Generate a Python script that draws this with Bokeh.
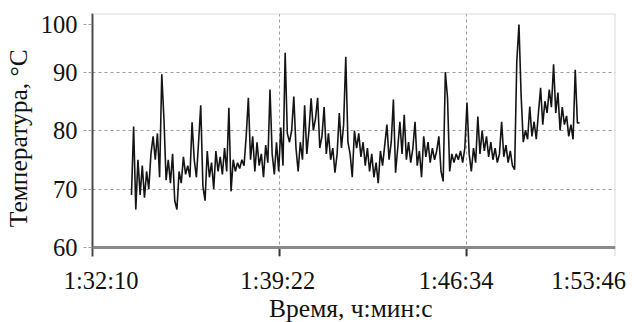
from bokeh.plotting import figure
from bokeh.models import FixedTicker, Range1d, Span, ColumnDataSource
from bokeh.embed import file_html
from bokeh.resources import INLINE

# ---- data ----
start_seconds = 5620          # 1:33:40
step_seconds = 5
temperature = [
    69, 80.7, 66.5, 75, 69, 74, 68.5, 73, 70, 76,
    79, 75, 79.5, 72, 89.6, 82, 71.5, 75, 71, 76,
    68, 66.5, 73, 71, 75.5, 72.5, 74, 72, 81.4, 75,
    72, 78, 84.3, 70.5, 68, 76.5, 72, 74.5, 70, 76.5,
    73, 75.5, 72.5, 77, 73, 83.9, 69.6, 75, 73, 74.5,
    73.5, 75, 74, 79, 85.6, 75, 79, 73, 78, 74,
    76, 72, 77.5, 74.5, 87, 76, 72.5, 78, 73, 80.5,
    74, 93.3, 79.5, 78, 80, 85.8, 77, 73, 78, 75,
    84.3, 76, 80, 85.5, 80, 82, 85.6, 77, 79, 84,
    76, 79.5, 75, 77, 72.8, 76, 83, 77, 81, 92.6,
    78, 76, 72, 80, 77, 79.5, 75.5, 78, 74, 77,
    73, 76, 72, 74.5, 71, 76.5, 74, 77.5, 81, 75,
    78, 85.3, 72.8, 77, 81.5, 76, 82.7, 75, 78, 74.5,
    77, 81.5, 74, 76.5, 72, 79, 75.5, 78, 74.5, 77,
    75, 76.5, 79, 73, 71.3, 90, 85.6, 73, 76, 74.5,
    76, 75, 76.5, 74.5, 77, 84.8, 76, 73, 77, 74.5,
    82.4, 76, 80, 76.5, 79, 75.5, 78, 75, 77, 74.5,
    76, 81.5, 75.5, 77.5, 74.5, 76.5, 74, 73.3, 91.8, 98.1,
    86, 78, 80, 78.5, 84.1, 79, 81.5, 78.5, 83, 87.3,
    81, 85, 83, 87, 84, 91.3, 83, 86.5, 80, 84,
    81, 82.5, 79, 81, 78.5, 90.4, 81.3, 81.3,
]
time_seconds = [start_seconds + i * step_seconds for i in range(len(temperature))]

# time ticks (seconds) and their labels
x_tick_values = [5530, 5962, 6394]                 # 1:32:10, 1:39:22, 1:46:34
x_tick_labels = ["1:32:10", "1:39:22", "1:46:34", "1:53:46"]
y_tick_values = [60, 70, 80, 90, 100]

# ---- layout constants (as in the source picture) ----
x_label_positions = [5550, 5958, 6370, 6676]       # where the time labels sit
y_top_label_position = 98.12                       # the "100" label sits a little low
x_start, x_end = 5530, 6738
y_start, y_end = 60 - 40 * 9 / 234, 100            # frame extends 9px below 60 for tick marks

FONT = "Liberation Serif"

p = figure(frame_width=523, frame_height=243, output_backend="svg", toolbar_location=None,
           x_range=Range1d(x_start, x_end), y_range=Range1d(y_start, y_end),
           min_border_left=91, min_border_right=11, min_border_top=13,
           min_border_bottom=60)

src = ColumnDataSource(dict(t=time_seconds, v=temperature))
p.line("t", "v", source=src, line_color="#141414", line_width=1.6)

# ---- axes ----
p.xaxis.ticker = FixedTicker(ticks=x_label_positions)
p.xaxis.major_label_overrides = {x_label_positions[i]: x_tick_labels[i] for i in range(4)}
y_label_ticks = y_tick_values[:-1] + [y_top_label_position]
p.yaxis.ticker = FixedTicker(ticks=y_label_ticks)
p.yaxis.major_label_overrides = {y_top_label_position: str(y_tick_values[-1])}

for ax in (p.xaxis[0], p.yaxis[0]):
    ax.major_label_text_font = FONT
    ax.major_label_text_font_size = "24.5px"
    ax.major_label_text_color = "#111111"
    ax.axis_label_text_font = FONT
    ax.axis_label_text_font_size = "25.5px"
    ax.axis_label_text_font_style = "normal"
    ax.axis_label_text_color = "#111111"
    ax.minor_tick_line_color = None
    ax.major_tick_in = 0

p.xaxis.axis_label = "Время,  ч:мин:с"
p.yaxis.axis_label = "Температура,  °С"

p.xaxis.axis_line_color = None
p.xaxis.major_tick_line_color = None
p.xaxis.major_tick_out = 0
p.xaxis.major_label_standoff = 10
p.xaxis.axis_label_standoff = -3

p.yaxis.axis_line_color = "#4a4a4a"
p.yaxis.axis_line_width = 2
p.yaxis.major_tick_line_color = "#a0a0a0"
p.yaxis.major_tick_line_width = 1
p.yaxis.major_tick_line_dash = "3 2"
p.yaxis.major_tick_out = 9
p.yaxis.major_label_standoff = 6
p.yaxis.axis_label_standoff = 5

# ---- grid ----
p.xgrid.ticker = FixedTicker(ticks=x_tick_values[1:])
p.ygrid.ticker = FixedTicker(ticks=y_tick_values[1:4])
for g in (p.xgrid[0], p.ygrid[0]):
    g.grid_line_color = "#9a9a9a"
    g.grid_line_dash = "3 3"
    g.grid_line_width = 1

# frame borders: light top/right, grey time axis line at 60
p.outline_line_color = None
p.add_layout(Span(location=y_end, dimension="width", line_color="#d9d9d9", line_width=2))
p.add_layout(Span(location=x_end, dimension="height", line_color="#d9d9d9", line_width=2))
p.add_layout(Span(location=y_tick_values[0], dimension="width", line_color="#8a8a8a", line_width=3))

# time tick marks below the axis line
p.segment(x0=x_tick_values[1:], y0=[y_tick_values[0]] * 2,
          x1=x_tick_values[1:], y1=[y_start] * 2,
          line_color="#333333", line_width=2)

open("out.html", "w").write(file_html(p, INLINE))
